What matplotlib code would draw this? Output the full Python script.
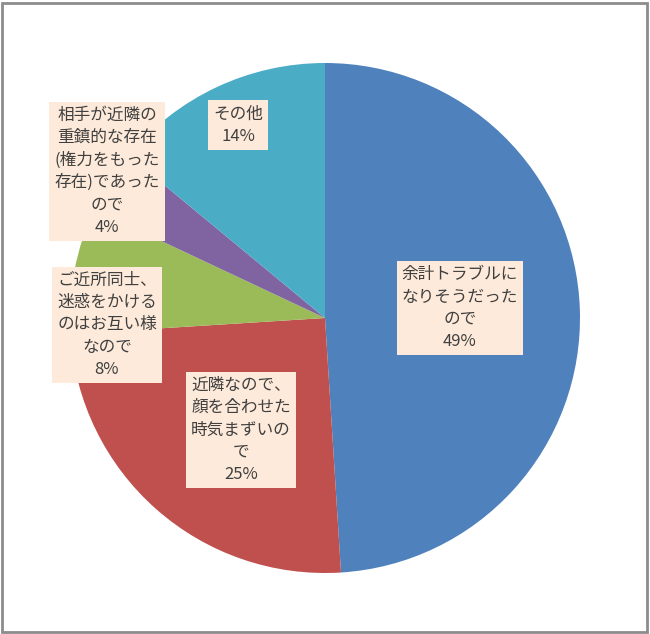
import matplotlib.pyplot as plt
from matplotlib.patches import Rectangle

plt.rcParams['font.family'] = ['Noto Sans CJK JP', 'DejaVu Sans']

# 回答の内訳（%）
labels = ['余計トラブルに\nなりそうだった\nので',
          '近隣なので、\n顔を合わせた\n時気まずいの\nで',
          'ご近所同士、\n迷惑をかける\nのはお互い様\nなので',
          '相手が近隣の\n重鎮的な存在\n(権力をもった\n存在)であった\nので',
          'その他']
values = [49, 25, 8, 4, 14]
colors = ['#4F81BD', '#C0504D', '#9BBB59', '#8064A2', '#4BACC6']

# ラベルの位置（円の半径=1 の座標）
label_pos = [(0.529, 0.039), (-0.329, -0.439), (-0.855, -0.027),
             (-0.855, 0.576), (-0.341, 0.757)]

fig = plt.figure(figsize=(6.5, 6.34), dpi=100)
ax = fig.add_axes([0, 0, 1, 1])

ax.pie(values, colors=colors, startangle=90, counterclock=False,
       radius=1, center=(0, 0))

for lab, v, (x, y) in zip(labels, values, label_pos):
    ax.text(x, y, f'{lab}\n{v}%', ha='center', va='center', fontsize=12,
            color='#404040', linespacing=1.4,
            bbox=dict(boxstyle='square,pad=0.3', fc='#FDEADA', ec='none'))

# 座標: 中心(325,318)px, 半径255px
ax.set_xlim(-325 / 255, (650 - 325) / 255)
ax.set_ylim(-(634 - 318) / 255, 318 / 255)
ax.set_aspect('equal')
ax.axis('off')

# 外枠
fig.patches.append(Rectangle((0.003, 0.003), 0.993, 0.993, transform=fig.transFigure,
                             fill=False, ec='#8C8C8C', lw=2))

fig.savefig('out.png', dpi=100)
